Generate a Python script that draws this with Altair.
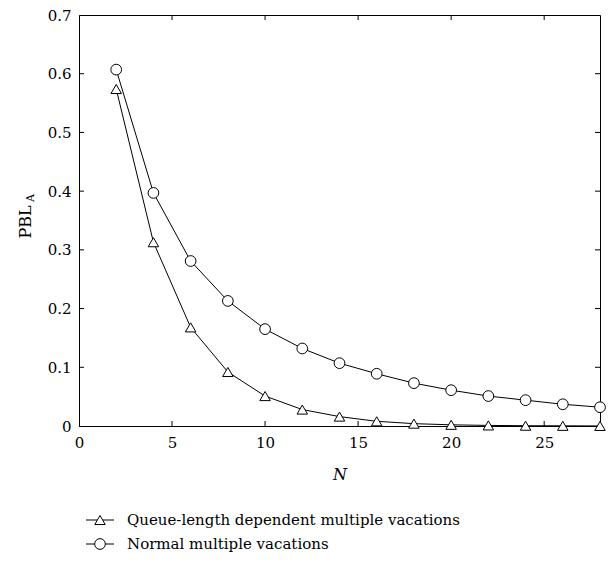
import altair as alt
import pandas as pd

N = [2, 4, 6, 8, 10, 12, 14, 16, 18, 20, 22, 24, 26, 28]
queue_dep = [0.574, 0.313, 0.168, 0.092, 0.051, 0.028, 0.016, 0.008, 0.004, 0.002,
             0.001, 0.0005, 0.0003, 0.0001]
normal = [0.607, 0.397, 0.281, 0.213, 0.165, 0.132, 0.107, 0.089, 0.073, 0.061,
          0.051, 0.044, 0.037, 0.032]
series_names = ["Queue-length dependent multiple vacations", "Normal multiple vacations"]
x_ticks = [0, 5, 10, 15, 20, 25]
y_ticks = [0, 0.1, 0.2, 0.3, 0.4, 0.5, 0.6, 0.7]

FONT = "DejaVu Serif"
W, H = 521, 411

df = pd.DataFrame({
    "N": N * 2,
    "v": queue_dep + normal,
    "s": [series_names[0]] * len(N) + [series_names[1]] * len(N),
})
df_q = df[df.s == series_names[0]]
df_n = df[df.s == series_names[1]]

xs = alt.Scale(domain=[0, 28], nice=False)
ys = alt.Scale(domain=[0, 0.7], nice=False)

xax = alt.Axis(values=x_ticks, ticks=False, grid=False, labelPadding=9,
               title="N", titleFontStyle="italic", titlePadding=16,
               labelFlush=False)
yax = alt.Axis(values=y_ticks, ticks=False, grid=False, labelPadding=8, title=None,
               labelExpr="datum.value == 0 ? '0' : format(datum.value, '.1f')")

CS, TS = 115, 110

def series(d, shape):
    line = alt.Chart(d).mark_line(color="black", strokeWidth=1).encode(
        x=alt.X("N:Q", scale=xs, axis=xax),
        y=alt.Y("v:Q", scale=ys, axis=yax),
    )
    pts = alt.Chart(d).mark_point(shape=shape, size=CS if shape == "circle" else TS,
                                  filled=False, fill="white", fillOpacity=1,
                                  stroke="black", strokeWidth=1, opacity=1).encode(
        x=alt.X("N:Q", scale=xs),
        y=alt.Y("v:Q", scale=ys),
    )
    return line, pts

lq, pq = series(df_q, "triangle-up")
ln, pn = series(df_n, "circle")

xt = pd.DataFrame({"t": x_ticks[1:]})
yt = pd.DataFrame({"t": y_ticks[1:-1]})
TL = 5
tick_b = alt.Chart(xt).mark_rule(color="black").encode(
    x=alt.X("t:Q", scale=xs), y=alt.value(H), y2=alt.value(H - TL))
tick_t = alt.Chart(xt).mark_rule(color="black").encode(
    x=alt.X("t:Q", scale=xs), y=alt.value(0), y2=alt.value(TL))
tick_l = alt.Chart(yt).mark_rule(color="black").encode(
    y=alt.Y("t:Q", scale=ys), x=alt.value(0), x2=alt.value(TL))
tick_r = alt.Chart(yt).mark_rule(color="black").encode(
    y=alt.Y("t:Q", scale=ys), x=alt.value(W), x2=alt.value(W - TL))

# y-axis title PBL with subscript A
ttl = pd.DataFrame({"main": ["PBL"], "sub": ["A"]})
ytitle = alt.Chart(ttl).mark_text(font=FONT, fontSize=16, angle=270, align="center",
                                  baseline="middle", color="black").encode(
    text="main:N", x=alt.value(-53), y=alt.value(207))
ysub = alt.Chart(ttl).mark_text(font=FONT, fontSize=11, angle=270, align="center",
                                baseline="middle", color="black").encode(
    text="sub:N", x=alt.value(-48), y=alt.value(183))

# legend
leg_rows = []
for i, (name, shape) in enumerate(zip(series_names, ["triangle-up", "circle"])):
    yy = 505 + i * 24
    ldf = pd.DataFrame({"name": [name]})
    rule = alt.Chart(ldf).mark_rule(color="black", strokeWidth=1).encode(
        x=alt.value(7), x2=alt.value(35), y=alt.value(yy))
    mk = alt.Chart(ldf).mark_point(shape=shape, size=CS if shape == "circle" else TS,
                                   filled=False, fill="white", fillOpacity=1,
                                   stroke="black", strokeWidth=1, opacity=1).encode(
        x=alt.value(21), y=alt.value(yy))
    tx = alt.Chart(ldf).mark_text(font=FONT, fontSize=15, align="left", baseline="middle",
                                  color="black").encode(
        text="name:N", x=alt.value(48), y=alt.value(yy))
    leg_rows += [rule, mk, tx]

chart = alt.layer(
    tick_b, tick_t, tick_l, tick_r, lq, ln, pq, pn, ytitle, ysub, *leg_rows
).properties(
    width=W, height=H,
    autosize=alt.AutoSizeParams(type="none"),
    padding={"left": 71, "top": 7, "right": 8, "bottom": 129},
).configure_view(stroke="black", strokeWidth=1).configure_axis(
    domainColor="black", domainWidth=1, labelFont=FONT, labelFontSize=15,
    labelColor="black", titleFont=FONT, titleFontSize=16, titleColor="black",
    titleFontWeight="normal",
)

chart.save("out.html", embed_options={"renderer": "svg", "actions": False})
